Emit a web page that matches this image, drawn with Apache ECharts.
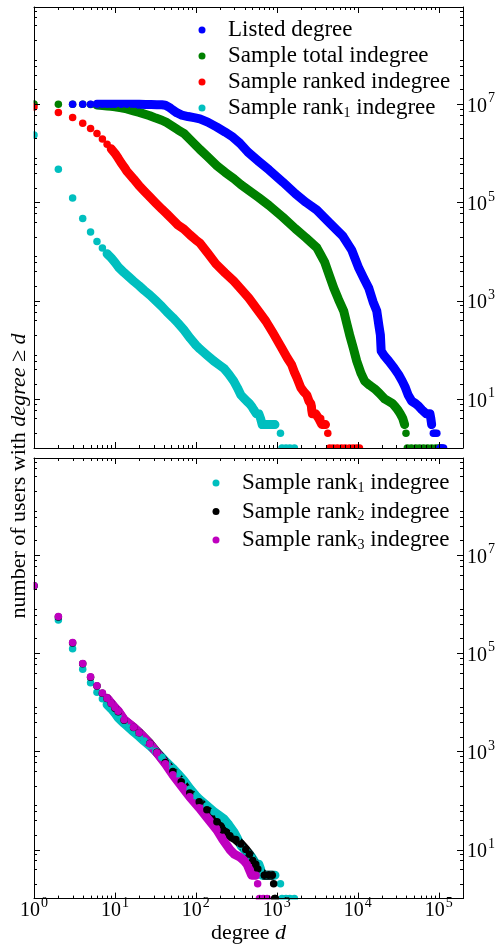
<!DOCTYPE html>
<html>
<head>
<meta charset="utf-8">
<script src="https://cdn.jsdelivr.net/npm/echarts@6/dist/echarts.min.js"></script>
<style>html,body{margin:0;padding:0;background:#fff}#c{width:499px;height:945px}</style>
</head>
<body>
<div id="c"></div>
<script>
// ---------------- data: [degree d, number of users with degree >= d] ----------------
const listedDegree = [
[3,1.0e7],[4,1.0e7],[5,1.0e7],[6,1.0e7],[7,1.0e7],[8,1.0e7],[9,1.0e7],[10,1.0e7],[12,1.0e7],[14,9.95e6],[17,9.9e6],[20,9.9e6],[24,9.85e6],[28,9.8e6],[33,9.75e6],[38,9.7e6],[42,9.5e6],[47,8.6e6],[52,7.6e6],[58,6.7e6],[67,6.0e6],[80,5.6e6],[95,5.3e6],[112,5.0e6],[140,4.3e6],[182,3.4e6],[230,2.7e6],[286,2.14e6],[350,1.6e6],[439,1.06e6],[600,6.8e5],[800,4.6e5],[1186,2.6e5],[1700,1.5e5],[2300,1.0e5],[3120,7.0e4],[4500,3.8e4],[6530,2.07e4],[8440,1.07e4],[10300,4.6e3],[12000,2.76e3],[13700,1.8e3],[15500,940],[17200,615],[18300,305],[19060,200],[19500,94],[21500,74],[24150,59],[28000,43],[32100,31],[35500,23],[38800,17],[42000,12],[46500,9],[52000,8],[57000,7],[62000,6],[70000,5],[78000,5],[80000,4],[82000,3],[86000,2],[90000,2],[95000,2],[104000,1],[110000,1],[115000,1]
];
const totalIndegree = [
[1,1.01e7],[2,1.0e7],[3,1.0e7],[4,9.9e6],[5,9.8e6],[6,9.6e6],[7,9.4e6],[8,9.2e6],[9,9.0e6],[10,8.8e6],[12,8.4e6],[14,8.0e6],[17,7.3e6],[20,6.8e6],[23,6.3e6],[27,5.8e6],[32,5.2e6],[38,4.7e6],[44,4.2e6],[52,3.5e6],[60,3.0e6],[71,2.55e6],[85,1.9e6],[100,1.45e6],[112,1.2e6],[140,8.5e5],[182,5.6e5],[230,4.1e5],[294,3.05e5],[360,2.3e5],[451,1.75e5],[600,1.25e5],[800,8.7e4],[1186,5.0e4],[1700,2.9e4],[2300,1.9e4],[3120,1.2e4],[3500,8.5e3],[3920,6.0e3],[4450,3.3e3],[5060,1.8e3],[5800,1.05e3],[6720,610],[7300,350],[7950,200],[8800,110],[9720,59],[11000,33],[12200,23],[14000,19],[16200,16],[18500,13],[21500,10],[24000,9],[27000,8],[29000,7],[31200,6],[33500,5],[36000,4],[38000,3],[39500,2],[41000,1],[46000,1],[52000,1],[58000,1],[65000,1],[73000,1],[82000,1],[92000,1],[100000,1],[106000,1]
];
const rankedIndegree = [
[1,8.75e6],[2,6.8e6],[3,5.35e6],[4,4.07e6],[5,3.19e6],[6,2.53e6],[7,1.95e6],[8,1.53e6],[9,1.23e6],[10,1.0e6],[11,7.9e5],[12,6.3e5],[13,5.25e5],[14,4.35e5],[15,3.8e5],[17,3.0e5],[20,2.16e5],[23,1.7e5],[27,1.29e5],[32,9.7e4],[38,7.3e4],[44,5.8e4],[52,4.4e4],[60,3.47e4],[71,2.88e4],[85,2.17e4],[100,1.72e4],[112,1.49e4],[140,9.3e3],[177,5.6e3],[230,3.66e3],[294,2.5e3],[360,1.73e3],[451,1.13e3],[580,645],[731,385],[900,219],[1150,109],[1350,68],[1530,49],[1650,35],[1770,27],[1980,17],[2150,14],[2350,12],[2500,9],[2630,8],[2680,7],[2700,6],[2750,5],[3020,5],[3300,4],[3490,4],[3600,3],[4000,3],[4270,2],[4500,1],[5000,1],[5600,1],[6300,1],[7000,1],[7900,1],[8800,1],[9700,1],[10500,1]
];
const rank1Indegree = [
[1,2.36e6],[2,4.75e5],[3,1.23e5],[4,4.7e4],[5,2.5e4],[6,1.6e4],[7,1.18e4],[8,9.0e3],[9,7.4e3],[10,6.0e3],[11,4.85e3],[12,4.2e3],[13,3.7e3],[15,3.0e3],[17,2.5e3],[20,2.0e3],[23,1.62e3],[27,1.3e3],[32,1.0e3],[38,760],[44,587],[52,450],[60,350],[71,255],[85,172],[100,125],[112,104],[137,78],[167,59],[192,50],[222,42],[255,32],[294,23],[325,17],[360,12],[400,10],[426,9],[460,8],[491,7],[520,6],[560,5],[600,5],[630,4],[660,3],[750,3],[850,3],[950,3],[1110,2],[1160,1],[1300,1],[1450,1],[1650,1]
];
const rank2Indegree = [
[1,2.36e6],[2,5.5e5],[3,1.62e5],[4,6.1e4],[5,3.25e4],[6,2.14e4],[7,1.52e4],[8,1.19e4],[9,9.4e3],[10,7.6e3],[11,6.4e3],[13,4.3e3],[17,3.05e3],[20,2.4e3],[27,1.45e3],[33,960],[42,590],[52,391],[66,240],[84,142],[110,94],[137,65],[182,37],[215,25],[263,19],[312,16],[360,13],[414,10],[460,8],[505,6],[550,5],[583,4],[700,3],[790,3],[880,3],[915,2],[940,1],[960,1]
];
const rank3Indegree = [
[1,2.36e6],[2,5.6e5],[3,1.65e5],[4,6.2e4],[5,3.3e4],[6,2.17e4],[7,1.54e4],[8,1.21e4],[9,9.6e3],[10,7.8e3],[11,6.6e3],[13,4.4e3],[17,3.1e3],[20,2.4e3],[27,1.43e3],[33,940],[42,560],[52,334],[66,200],[84,119],[110,71],[137,45],[182,25],[215,16],[263,10],[300,8],[350,7],[392,6],[430,5],[455,4],[490,3],[525,3],[555,3],[580,2],[610,1],[680,1],[760,1]
];

// tick values
const xMajorTicks = [1, 10, 100, 1000, 10000, 100000];
const xMinorSubs = [2, 3, 4, 5, 6, 7, 8, 9];
const yLabelTicks = [10, 1000, 100000, 10000000];
const yMinorSubs = [2, 4, 6, 8];

// ---------------- layout / style ----------------
const FONT = '"Liberation Serif", "DejaVu Serif", serif';
const X_MIN = 1, X_MAX = 2e5, Y_MIN = 1, Y_MAX = 9.5e8;
const GRIDS = [
  {left: 34, top: 7, width: 429, height: 441},
  {left: 34, top: 458, width: 429, height: 441}
];
const DOT = 7.5, BAND = 9;

const xMinorTicks = [];
for (let k = 0; k <= 5; k++) xMinorSubs.forEach(m => { const v = m * Math.pow(10, k); if (v < X_MAX) xMinorTicks.push(v); });
const yMinorTicks = [];
for (let k = 0; k <= 8; k++) yMinorSubs.forEach(m => { const v = m * Math.pow(10, k); if (v < Y_MAX) yMinorTicks.push(v); });

const panels = [
  [
    {name: 'Sample total indegree', data: totalIndegree, color: '#008000', band: [6, 38000]},
    {name: 'Listed degree', data: listedDegree, color: '#0000ff', band: [6, 83000]},
    {name: 'Sample ranked indegree', data: rankedIndegree, color: '#ff0000', band: [9, 4000]},
    {name: 'Sample rank1 indegree', data: rank1Indegree, color: '#00bfbf', band: [8, 950]}
  ],
  [
    {name: 'Sample rank1 indegree', data: rank1Indegree, color: '#00bfbf', band: [8, 950]},
    {name: 'Sample rank2 indegree', data: rank2Indegree, color: '#000000', band: [8, 880]},
    {name: 'Sample rank3 indegree', data: rank3Indegree, color: '#bf00bf', band: [8, 555]}
  ]
];
const legendNames = [
  ['Listed degree', 'Sample total indegree', 'Sample ranked indegree', 'Sample rank1 indegree'],
  ['Sample rank1 indegree', 'Sample rank2 indegree', 'Sample rank3 indegree']
];

function isPow10(v) { const e = Math.log10(v); return Math.abs(e - Math.round(e)) < 1e-6; }
const tickRich = {
  b: {fontFamily: FONT, fontSize: 20, lineHeight: 20, padding: [5, 0, 0, 0], color: '#000'},
  s: {fontFamily: FONT, fontSize: 14, lineHeight: 14, padding: [0, 0, 11, 1], color: '#000'}
};
function xLabel(v) { if (!isPow10(v)) return ''; return '{b|10}{s|' + Math.round(Math.log10(v)) + '}'; }
function yLabel(v) {
  if (!yLabelTicks.some(t => Math.abs(Math.log10(t) - Math.log10(v)) < 1e-6)) return '';
  return '{b|10}{s|' + Math.round(Math.log10(v)) + '}';
}

const xAxes = [], yAxes = [];
GRIDS.forEach((g, gi) => {
  const line = {show: true, onZero: false, lineStyle: {color: '#000', width: 1}};
  xAxes.push({type: 'log', logBase: 10, gridIndex: gi, position: 'bottom', min: X_MIN, max: X_MAX, interval: 1, z: 10,
    axisLine: line, axisTick: {show: false}, splitLine: {show: false},
    axisLabel: gi === 1 ? {show: true, formatter: xLabel, margin: 0, rich: tickRich, showMinLabel: true, showMaxLabel: true} : {show: false},
    name: gi === 1 ? 'degree {i|d}' : '', nameLocation: 'middle', nameGap: 22,
    nameTextStyle: {fontFamily: FONT, fontSize: 22, color: '#000', verticalAlign: 'top', rich: {i: {fontFamily: FONT, fontSize: 22, fontStyle: 'italic', color: '#000'}}}
  });
  xAxes.push({type: 'log', logBase: 10, gridIndex: gi, position: 'top', min: X_MIN, max: X_MAX, interval: 1, z: 10,
    axisLine: line, axisTick: {show: false}, splitLine: {show: false}, axisLabel: {show: false}});
  yAxes.push({type: 'log', logBase: 10, gridIndex: gi, position: 'left', min: Y_MIN, max: Y_MAX, interval: 1, z: 10,
    axisLine: line, axisTick: {show: false}, splitLine: {show: false}, axisLabel: {show: false}});
  yAxes.push({type: 'log', logBase: 10, gridIndex: gi, position: 'right', min: Y_MIN, max: Y_MAX, interval: 1, z: 10,
    axisLine: line, axisTick: {show: false}, splitLine: {show: false},
    axisLabel: {show: true, formatter: yLabel, margin: 4, rich: tickRich, align: 'left', verticalAlign: 'middle'}});
});

const series = [];
panels.forEach((list, gi) => {
  list.forEach(s => {
    series.push({
      type: 'line', name: s.name, xAxisIndex: gi * 2, yAxisIndex: gi * 2,
      data: s.data.filter(p => p[0] >= s.band[0] && p[0] <= s.band[1]),
      showSymbol: false, symbol: 'none', clip: false, silent: true, z: 2,
      lineStyle: {color: s.color, width: BAND, cap: 'round', join: 'round'},
      itemStyle: {color: s.color}, emphasis: {disabled: true}
    });
    series.push({
      type: 'scatter', name: s.name, xAxisIndex: gi * 2, yAxisIndex: gi * 2,
      data: s.data, symbol: 'circle', symbolSize: DOT, clip: false, silent: true, z: 2,
      itemStyle: {color: s.color, opacity: 1}, emphasis: {disabled: true}
    });
  });
  // axis ticks (inside, all four sides) drawn through the axes' own scales
  const td = [];
  xMajorTicks.forEach(v => td.push([v, Y_MIN, 0]));
  xMinorTicks.forEach(v => td.push([v, Y_MIN, 1]));
  yLabelTicks.forEach(v => td.push([X_MIN, v, 2]));
  yMinorTicks.forEach(v => td.push([X_MIN, v, 3]));
  series.push({
    type: 'custom', xAxisIndex: gi * 2, yAxisIndex: gi * 2, data: td, z: 11, silent: true, clip: false,
    encode: {x: 0, y: 1},
    renderItem: function (params, api) {
      const cs = params.coordSys;
      const kind = api.value(2);
      const p = api.coord([api.value(0), api.value(1)]);
      const len = (kind === 0 || kind === 2) ? 6 : 3;
      const st = {stroke: '#000', lineWidth: 1};
      if (kind < 2) {
        const x = Math.round(p[0]) + 0.5;
        const yb = cs.y + cs.height, yt = cs.y;
        return {type: 'group', children: [
          {type: 'line', shape: {x1: x, y1: yb, x2: x, y2: yb - len}, style: st},
          {type: 'line', shape: {x1: x, y1: yt, x2: x, y2: yt + len}, style: st}
        ]};
      }
      const y = Math.round(p[1]) + 0.5;
      const xl = cs.x, xr = cs.x + cs.width;
      return {type: 'group', children: [
        {type: 'line', shape: {x1: xl, y1: y, x2: xl + len, y2: y}, style: st},
        {type: 'line', shape: {x1: xr, y1: y, x2: xr - len, y2: y}, style: st}
      ]};
    }
  });
});

const legendRich = {
  g: {width: 17.5},
  sub: {fontFamily: FONT, fontSize: 14, lineHeight: 14, padding: [10, 0, 0, 0], color: '#000'}
};
function legendFmt(name) { return '{g|}' + name.replace(/rank(\d)/, 'rank{sub|$1}'); }
const legendBase = {
  orient: 'vertical', itemWidth: 7, itemHeight: 7, icon: 'circle', selectedMode: false, padding: 0,
  textStyle: {fontFamily: FONT, fontSize: 23, lineHeight: 24, color: '#000', rich: legendRich},
  formatter: legendFmt
};

const mask = (x, y, w, h) => ({type: 'rect', z: 5, silent: true, shape: {x, y, width: w, height: h}, style: {fill: '#fff'}});

const option = {
  animation: false,
  backgroundColor: '#fff',
  grid: GRIDS.map(g => Object.assign({containLabel: false}, g)),
  xAxis: xAxes,
  yAxis: yAxes,
  legend: [
    Object.assign({}, legendBase, {data: legendNames[0], left: 198.5, top: 18, itemGap: 2}),
    Object.assign({}, legendBase, {data: legendNames[1], left: 212.5, top: 471, itemGap: 4.5})
  ],
  series: series,
  graphic: [
    mask(0, 0, 33.5, 945),
    mask(0, 448.5, 499, 9),
    mask(0, 899.5, 499, 46),
    {type: 'text', x: 19, y: 476, rotation: Math.PI / 2, z: 20, silent: true,
     style: {text: 'number of users with {i|degree} ≥ {i|d}', fontFamily: FONT, fontSize: 22, fill: '#000',
             align: 'center', verticalAlign: 'middle',
             rich: {i: {fontFamily: FONT, fontSize: 22, fontStyle: 'italic', fill: '#000', color: '#000'}}}}
  ]
};
const chart = echarts.init(document.getElementById('c'));
chart.setOption(option);
</script>
</body>
</html>
